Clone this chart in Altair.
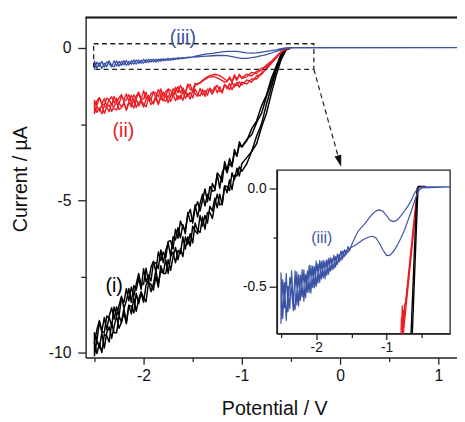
import altair as alt
import pandas as pd

FONT = "Liberation Sans"
BLACK = "#000000"
RED = "#ec1c24"
BLUE = "#3b53a4"

# ---------------- data ----------------
FINE_X = [-2.500, -2.475, -2.450, -2.425, -2.400, -2.375, -2.350, -2.325, -2.300, -2.275,
          -2.250, -2.225, -2.200, -2.175, -2.150, -2.125, -2.100, -2.075, -2.050, -2.025,
          -2.000, -1.975, -1.950, -1.925, -1.900, -1.875, -1.850, -1.825, -1.800, -1.775,
          -1.750, -1.725, -1.700, -1.675, -1.650, -1.625, -1.600, -1.575, -1.550, -1.525,
          -1.500, -1.475, -1.450, -1.425, -1.400, -1.375, -1.350, -1.325, -1.300, -1.275,
          -1.250, -1.225, -1.200, -1.175, -1.150, -1.125, -1.100, -1.075, -1.050, -1.025, -1.000]
RISE_X = [-0.95, -0.90, -0.85, -0.80, -0.75, -0.70, -0.65, -0.60, -0.55, -0.50]
END_X = 1.2

BLACK_1_UP = [-9.35, -9.6, -9.0, -9.3, -9.35, -8.8, -8.85, -9.13, -8.5, -8.8,
              -8.45, -8.15, -8.55, -8.3, -7.9, -8.35, -7.8, -7.95, -7.55, -7.93,
              -7.25, -7.68, -7.45, -7.65, -7.05, -7.05, -7.25, -6.63, -7.05, -6.65,
              -6.4, -6.83, -6.2, -6.3, -5.9, -6.23, -5.8, -6.1, -5.4, -5.7,
              -5.65, -5.15, -5.55, -5.1, -4.8, -5.18, -4.8, -5.0, -4.45, -4.63,
              -4.15, -4.6, -4.1, -3.88, -4.1, -3.78, -3.9, -3.33, -3.55, -3.18, -3.25,
              -3.05, -2.65, -2.4, -1.9, -1.55, -1.0, -0.6, -0.2, -0.02, 0.0]
BLACK_1_LO = [-10.1, -9.58, -9.85, -9.35, -9.85, -9.35, -9.15, -9.53, -9.15, -8.8,
              -9.2, -9.0, -8.55, -9.0, -8.45, -8.48, -8.7, -8.05, -8.4, -8.05,
              -8.35, -7.78, -7.65, -8.0, -7.75, -7.3, -7.75, -7.3, -7.4, -6.95,
              -7.4, -6.85, -6.7, -7.05, -6.65, -6.75, -6.2, -6.6, -6.2, -6.5,
              -5.85, -6.0, -6.1, -5.5, -5.85, -5.5, -5.75, -5.2, -5.35, -4.93,
              -5.25, -4.8, -5.15, -4.53, -4.55, -4.68, -4.1, -4.33, -3.95, -4.2, -3.8,
              -3.6, -3.4, -2.9, -2.5, -1.85, -1.3, -0.75, -0.3, -0.04, 0.0]
BLACK_2_UP = [-9.7, -9.25, -8.95, -9.3, -8.85, -9.25, -8.8, -8.53, -8.9, -8.5,
              -8.8, -8.2, -8.35, -7.9, -8.3, -7.85, -8.15, -7.75, -7.4, -7.78,
              -7.75, -7.23, -7.7, -7.2, -7.0, -7.35, -6.7, -6.98, -6.7, -6.9,
              -6.35, -6.33, -6.6, -5.95, -6.25, -5.68, -5.9, -5.95, -5.5, -5.3,
              -5.75, -5.25, -5.05, -5.35, -5.0, -4.63, -5.05, -4.55, -4.7, -4.68,
              -4.1, -4.2, -4.4, -3.73, -4.0, -3.63, -3.85, -3.43, -3.55, -3.08, -3.25,
              -3.0, -2.85, -2.45, -2.15, -1.6, -1.15, -0.65, -0.22, -0.03, 0.0]
BLACK_2_LO = [-9.65, -10.03, -9.7, -10.0, -9.4, -9.45, -9.65, -9.03, -9.35, -9.35,
              -8.8, -9.0, -8.7, -9.05, -8.45, -8.73, -8.2, -8.65, -8.25, -8.0,
              -8.2, -8.33, -7.7, -7.75, -7.95, -7.5, -7.85, -7.15, -7.4, -7.4,
              -6.95, -7.3, -6.85, -6.55, -6.95, -6.6, -6.85, -6.2, -6.45, -6.1,
              -6.4, -5.75, -6.0, -6.05, -5.55, -5.95, -5.4, -5.4, -5.6, -5.13,
              -4.8, -5.15, -5.1, -4.53, -4.75, -4.33, -4.65, -4.18, -4.2, -3.9, -4.05,
              -3.8, -3.4, -3.15, -2.6, -2.15, -1.5, -0.9, -0.38, -0.06, 0.0]

RED_1_UP = [-1.72, -1.89, -1.63, -1.82, -1.88, -1.645, -1.70, -1.87, -1.59, -1.78,
            -1.64, -1.53, -1.77, -1.69, -1.53, -1.785, -1.54, -1.66, -1.50, -1.71,
            -1.40, -1.65, -1.56, -1.70, -1.44, -1.475, -1.61, -1.345, -1.60, -1.435,
            -1.35, -1.615, -1.34, -1.435, -1.27, -1.475, -1.31, -1.495, -1.18, -1.365,
            -1.38, -1.16, -1.2, -1.13, -1.06, -1.0, -0.95, -0.91, -0.88, -0.87,
            -0.88, -0.91, -0.96, -1.02, -1.08, -1.0, -1.11, -0.875, -1.03, -0.885, -0.98,
            -0.86, -0.92, -0.76, -0.75, -0.56, -0.44, -0.28, -0.12, -0.02, 0.0]
RED_1_LO = [-2.15, -1.915, -2.07, -1.86, -2.15, -1.935, -1.87, -2.08, -1.92, -1.785,
            -2.02, -1.96, -1.78, -2.035, -1.79, -1.83, -1.97, -1.685, -1.90, -1.755,
            -1.94, -1.68, -1.65, -1.855, -1.77, -1.575, -1.83, -1.645, -1.73, -1.545,
            -1.80, -1.555, -1.52, -1.73, -1.57, -1.665, -1.42, -1.655, -1.49, -1.68,
            -1.40, -1.505, -1.59, -1.325, -1.54, -1.395, -1.55, -1.315, -1.43, -1.265,
            -1.47, -1.27, -1.48, -1.21, -1.26, -1.37, -1.13, -1.28, -1.13, -1.29, -1.12,
            -1.18, -1.02, -1.02, -0.82, -0.7, -0.5, -0.32, -0.14, -0.03, 0.0]
RED_2_UP = [-1.92, -1.74, -1.63, -1.85, -1.66, -1.895, -1.70, -1.60, -1.81, -1.65,
            -1.84, -1.58, -1.70, -1.51, -1.75, -1.555, -1.74, -1.58, -1.45, -1.67,
            -1.68, -1.45, -1.71, -1.50, -1.44, -1.645, -1.36, -1.545, -1.45, -1.585,
            -1.35, -1.385, -1.57, -1.285, -1.47, -1.225, -1.39, -1.445, -1.25, -1.195,
            -1.45, -1.23, -1.16, -1.15, -1.09, -1.03, -0.98, -0.95, -0.94, -0.95,
            -0.98, -1.02, -1.07, -1.12, -1.10, -0.95, -1.11, -0.945, -1.06, -0.865, -1.0,
            -0.95, -0.8, -0.84, -0.66, -0.62, -0.46, -0.3, -0.13, -0.02, 0.0]
RED_2_LO = [-1.90, -2.115, -1.97, -2.16, -1.90, -1.955, -2.09, -1.81, -2.0, -2.035,
            -1.80, -1.94, -1.82, -2.035, -1.77, -1.94, -1.70, -1.955, -1.79, -1.705,
            -1.84, -1.93, -1.65, -1.705, -1.84, -1.645, -1.86, -1.545, -1.71, -1.745,
            -1.55, -1.755, -1.57, -1.46, -1.70, -1.555, -1.72, -1.435, -1.59, -1.45,
            -1.64, -1.355, -1.52, -1.575, -1.36, -1.595, -1.35, -1.385, -1.52, -1.335,
            -1.22, -1.43, -1.43, -1.19, -1.34, -1.17, -1.37, -1.18, -1.24, -1.11, -1.22,
            -1.05, -1.12, -0.92, -0.87, -0.66, -0.5, -0.32, -0.14, -0.03, 0.0]

BLUE_NOISE_X = FINE_X[:40]
BLUE_UP_NOISY = [-0.69, -0.465, -0.61, -0.435, -0.63, -0.455, -0.52, -0.625, -0.42, -0.595,
                 -0.44, -0.572, -0.414, -0.576, -0.438, -0.53, -0.392, -0.534, -0.396, -0.508,
                 -0.37, -0.484, -0.368, -0.462, -0.366, -0.46, -0.364, -0.438, -0.352, -0.416,
                 -0.34, -0.402, -0.334, -0.376, -0.318, -0.36, -0.312, -0.339, -0.296, -0.318]
BLUE_LO_NOISY = [-0.43, -0.665, -0.48, -0.675, -0.5, -0.615, -0.42, -0.575, -0.62, -0.425,
                 -0.6, -0.442, -0.554, -0.416, -0.558, -0.42, -0.532, -0.394, -0.506, -0.398,
                 -0.5, -0.384, -0.478, -0.372, -0.456, -0.37, -0.444, -0.358, -0.422, -0.356,
                 -0.41, -0.347, -0.389, -0.336, -0.368, -0.32, -0.347, -0.314, -0.326, -0.303]
SMOOTH_X = [-1.50, -1.45, -1.40, -1.35, -1.30, -1.25, -1.20, -1.15, -1.10, -1.05, -1.00,
            -0.95, -0.90, -0.85, -0.80, -0.75, -0.70, -0.65, -0.60, -0.55, -0.50]
BLUE_UP_SMOOTH = [-0.29, -0.25, -0.215, -0.195, -0.175, -0.15, -0.128, -0.113, -0.108, -0.115, -0.138,
                  -0.162, -0.168, -0.16, -0.14, -0.115, -0.09, -0.06, -0.02, 0.005, 0.01]
BLUE_LO_SMOOTH = [-0.30, -0.29, -0.278, -0.265, -0.255, -0.247, -0.243, -0.252, -0.28, -0.315, -0.342,
                  -0.34, -0.32, -0.29, -0.255, -0.215, -0.165, -0.115, -0.06, -0.01, 0.005]
BLUE_END_Y = 0.01

# inset close-up of the red / black onsets
BLACK_IN_1_X = [-0.653, -0.569, -0.55, -0.45]
BLACK_IN_1_Y = [-0.742, 0.0, 0.01, 0.01]
BLACK_IN_2_X = [-0.635, -0.555, -0.54, -0.45]
BLACK_IN_2_Y = [-0.742, 0.0, 0.01, 0.01]
RED_IN_1_X = [-0.795, -0.79, -0.785, -0.778, -0.772, -0.765, -0.755, -0.745, -0.73, -0.667, -0.62, -0.575, -0.555, -0.45]
RED_IN_1_Y = [-0.742, -0.66, -0.72, -0.6, -0.68, -0.63, -0.67, -0.6, -0.58, -0.36, -0.19, -0.04, 0.012, 0.012]
RED_IN_2_X = [-0.775, -0.77, -0.762, -0.755, -0.748, -0.74, -0.72, -0.655, -0.61, -0.565, -0.548, -0.45]
RED_IN_2_Y = [-0.742, -0.65, -0.71, -0.62, -0.66, -0.6, -0.56, -0.34, -0.18, -0.03, 0.012, 0.012]
RED_IN_3_X = [-0.762, -0.74, -0.7, -0.65, -0.6, -0.56, -0.54, -0.45]
RED_IN_3_Y = [-0.742, -0.66, -0.52, -0.34, -0.16, -0.02, 0.01, 0.01]

# annotations
LABEL_TEXT = ["(i)", "(ii)", "(iii)"]
LABEL_X = [-2.30, -2.205, -1.60]
LABEL_Y = [-7.81, -2.74, 0.32]
LABEL_COLOR = [BLACK, RED, BLUE]
INSET_LABEL = ["(iii)"]
INSET_LABEL_X = [-1.92]
INSET_LABEL_Y = [-0.255]
RECT_X = [-2.508, -0.267]
RECT_Y = [0.139, -0.70]
ARROW_X = [-0.267, -0.006]
ARROW_Y = [-0.70, -3.716]

MAIN_X_DOMAIN = [-2.59, 1.19]
MAIN_Y_DOMAIN = [-10.16, 1.0]
MAIN_X_TICKS = [-2.5, -2, -1.5, -1, -0.5, 0, 0.5, 1]
MAIN_Y_TICKS = [-10, -7.5, -5, -2.5, 0]
INSET_X_DOMAIN = [-2.558, -0.098]
INSET_Y_DOMAIN = [-0.742, 0.096]
INSET_X_TICKS = [-2.5, -2, -1.5, -1, -0.5]
INSET_Y_TICKS = [-0.5, -0.25, 0]

W, H = 378, 346


# ---------------- frames ----------------
def loop_rows(trace, xs_a, ys_a, xs_b, ys_b, end=None):
    pts = [end] if end else []
    pts += list(zip(reversed(xs_a), reversed(ys_a)))
    pts += list(zip(xs_b, ys_b))
    pts += [end] if end else []
    return [{"trace": trace, "idx": i, "x": x, "y": y} for i, (x, y) in enumerate(pts)]


def path_rows(trace, xs, ys):
    return [{"trace": trace, "idx": i, "x": x, "y": y} for i, (x, y) in enumerate(zip(xs, ys))]


FULL_X = FINE_X + RISE_X
black_df = pd.DataFrame(
    loop_rows("a", FULL_X, BLACK_1_LO, FULL_X, BLACK_1_UP)
    + loop_rows("b", FULL_X, BLACK_2_LO, FULL_X, BLACK_2_UP))
red_df = pd.DataFrame(
    loop_rows("a", FULL_X, RED_1_LO, FULL_X, RED_1_UP)
    + loop_rows("b", FULL_X, RED_2_LO, FULL_X, RED_2_UP))
BLUE_X = BLUE_NOISE_X + SMOOTH_X
blue_df = pd.DataFrame(loop_rows("a", BLUE_X, BLUE_UP_NOISY + BLUE_UP_SMOOTH,
                                 BLUE_X, BLUE_LO_NOISY + BLUE_LO_SMOOTH, (END_X, BLUE_END_Y)))
black_in_df = pd.DataFrame(path_rows("a", BLACK_IN_1_X, BLACK_IN_1_Y) + path_rows("b", BLACK_IN_2_X, BLACK_IN_2_Y))
red_in_df = pd.DataFrame(path_rows("a", RED_IN_1_X, RED_IN_1_Y) + path_rows("b", RED_IN_2_X, RED_IN_2_Y)
                         + path_rows("c", RED_IN_3_X, RED_IN_3_Y))
label_df = pd.DataFrame({"x": LABEL_X, "y": LABEL_Y, "text": LABEL_TEXT, "color": LABEL_COLOR})
inset_label_df = pd.DataFrame({"x": INSET_LABEL_X, "y": INSET_LABEL_Y, "text": INSET_LABEL})
rect_df = pd.DataFrame({"x1": [RECT_X[0]], "x2": [RECT_X[1]], "y1": [RECT_Y[0]], "y2": [RECT_Y[1]]})
arrow_df = pd.DataFrame({"x": ARROW_X, "y": ARROW_Y, "idx": [0, 1]})
arrow_head_df = arrow_df.iloc[[1]]
inset_frame_df = pd.DataFrame({"x1": [INSET_X_DOMAIN[0]], "x2": [INSET_X_DOMAIN[1]],
                               "y1": [INSET_Y_DOMAIN[0]], "y2": [INSET_Y_DOMAIN[1]]})

# ---------------- scales & axes ----------------
main_xs = alt.Scale(domain=MAIN_X_DOMAIN, nice=False, zero=False)
main_ys = alt.Scale(domain=MAIN_Y_DOMAIN, nice=False, zero=False)
main_xa = alt.Axis(orient="bottom", values=MAIN_X_TICKS,
                   labelExpr="datum.value % 1 === 0 ? '' + datum.value : ''",
                   tickSize={"condition": {"test": "datum.value % 1 !== 0", "value": 4}, "value": 7},
                   labelFontSize=16, labelPadding=3, labelFlush=False,
                   title="Potential / V", titleFontSize=20, titleX=192, titleY=58,
                   titleBaseline="alphabetic", titleAlign="center")
main_ya = alt.Axis(orient="left", values=MAIN_Y_TICKS,
                   labelExpr="datum.value % 5 === 0 ? '' + datum.value : ''",
                   tickSize={"condition": {"test": "datum.value % 5 !== 0", "value": 5}, "value": 8},
                   labelFontSize=16, labelPadding=7, labelFlush=False,
                   title="Current / µA", titleFontSize=20, titleX=-60, titleY=164, titleAngle=270,
                   titleBaseline="alphabetic", titleAlign="center")

inset_xs = alt.Scale(domain=INSET_X_DOMAIN, range=[194.7, 371.0], nice=False, zero=False, clamp=True)
inset_ys = alt.Scale(domain=INSET_Y_DOMAIN, range=[321.7, 155.3], nice=False, zero=False, clamp=True)
inset_xa = alt.Axis(orient="bottom", offset=-24.3, values=INSET_X_TICKS,
                    labelExpr="datum.value % 1 === 0 ? '' + datum.value : ''",
                    tickSize={"condition": {"test": "datum.value % 1 !== 0", "value": 4}, "value": 6},
                    labelFontSize=14, labelPadding=1, labelFlush=False, title="")
inset_ya = alt.Axis(orient="left", offset=-194.7, values=INSET_Y_TICKS,
                    labelExpr="datum.value === 0 ? '0.0' : (datum.value === -0.5 ? '-0.5' : '')",
                    tickSize={"condition": {"test": "datum.value === -0.25", "value": 4}, "value": 8},
                    labelFontSize=14, labelPadding=3, labelFlush=False, title="")


def MX(f):
    return alt.X(f, type="quantitative", scale=main_xs, axis=main_xa)


def MY(f):
    return alt.Y(f, type="quantitative", scale=main_ys, axis=main_ya)


def IX(f):
    return alt.X(f, type="quantitative", scale=inset_xs, axis=inset_xa)


def IY(f):
    return alt.Y(f, type="quantitative", scale=inset_ys, axis=inset_ya)


def main_line(df, color, w=1.1):
    return alt.Chart(df).mark_line(color=color, strokeWidth=w, clip=True, strokeJoin="round").encode(
        x=MX("x"), y=MY("y"), detail="trace:N", order="idx:Q")


def inset_line(df, color, w=1.2):
    return alt.Chart(df).mark_line(color=color, strokeWidth=w, strokeJoin="round").encode(
        x=IX("x"), y=IY("y"), detail="trace:N", order="idx:Q")


main = alt.layer(
    main_line(black_df, BLACK, 1.5),
    main_line(red_df, RED, 1.4),
    main_line(blue_df, BLUE, 1.3),
    alt.Chart(rect_df).mark_rect(filled=False, stroke="#222222", strokeWidth=1.3, strokeDash=[5, 3.5]).encode(
        x=MX("x1"), x2="x2", y=MY("y1"), y2="y2"),
    alt.Chart(arrow_df).mark_line(color="#222222", strokeWidth=1.2, strokeDash=[5, 3.5]).encode(
        x=MX("x"), y=MY("y"), order="idx:Q"),
    alt.Chart(arrow_head_df).mark_point(shape="M -0.6 -1 L 0.6 -1 L 0 1 Z", filled=True, size=144,
                                        color="#111111", opacity=1, angle=344).encode(
        x=MX("x"), y=MY("y")),
    alt.Chart(label_df).mark_text(font=FONT, fontSize=20, align="center", baseline="middle").encode(
        x=MX("x"), y=MY("y"), text="text:N", color=alt.Color("color:N", scale=None)),
    alt.Chart(label_df).mark_rule(color="#222222", strokeWidth=1.4).encode(
        x=alt.value(0), x2=alt.value(W), y=alt.value(0)),
)

inset = alt.layer(
    alt.Chart(inset_frame_df).mark_rect(filled=False, stroke="#222222", strokeWidth=1.3).encode(
        x=IX("x1"), x2="x2", y=IY("y1"), y2="y2"),
    inset_line(red_in_df, RED, 1.3),
    inset_line(black_in_df, BLACK, 1.4),
    inset_line(blue_df, BLUE, 1.2),
    alt.Chart(inset_label_df).mark_text(font=FONT, fontSize=16, align="center", baseline="middle",
                                        color=BLUE).encode(x=IX("x"), y=IY("y"), text="text:N"),
)

chart = alt.layer(main, inset).resolve_scale(x="independent", y="independent").properties(
    width=W, height=H,
    autosize=alt.AutoSizeParams(type="none"),
    padding={"left": 79, "top": 6, "right": 0, "bottom": 62},
    background="white",
).configure_axis(
    grid=False, domainColor="#222222", tickColor="#222222", labelColor="#111111", titleColor="#111111",
    domainWidth=1.4, tickWidth=1.3, labelFont=FONT, titleFont=FONT, titleFontWeight="normal",
).configure_view(strokeWidth=0)

chart.save("out.html", embed_options={"renderer": "svg", "actions": False})
